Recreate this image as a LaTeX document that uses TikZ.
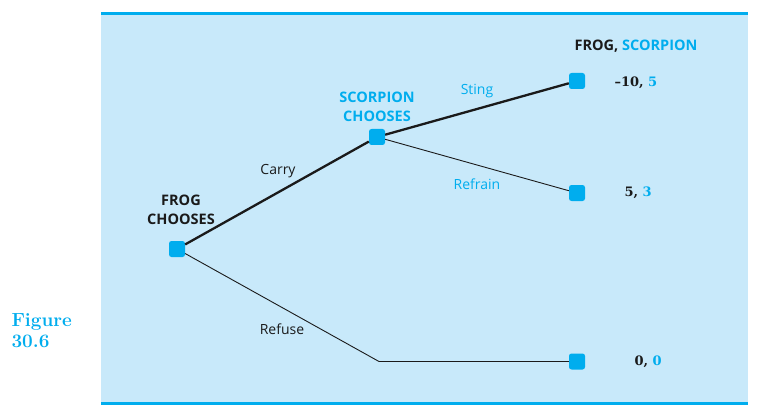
\documentclass[tikz,border=0pt]{standalone}
\usepackage{fontspec}
\setsansfont{Open Sans}
\newfontfamily\payfont{DejaVu Serif}
\definecolor{panel}{HTML}{C8E9FA}
\definecolor{cyanc}{HTML}{00ADEE}
\definecolor{ink}{HTML}{1A1A1A}
\tikzset{
  dec/.style={draw=none, fill=cyanc, rounded corners=2.5pt, minimum size=16pt, inner sep=0pt},
  thick branch/.style={line width=2.3pt, ink},
  thin branch/.style={line width=0.9pt, ink},
  lab/.style={font=\sffamily\fontsize{14}{16}\selectfont, text=ink},
  head/.style={font=\sffamily\bfseries\fontsize{14.5}{18.5}\selectfont, align=center},
  pay/.style={font=\payfont\bfseries\fontsize{13}{16}\selectfont, text=ink, anchor=west}
}
\begin{document}
\begin{tikzpicture}[x=1pt,y=-1pt]
\useasboundingbox (0,0) rectangle (760,417);
\fill[white] (0,0) rectangle (760,417);
\fill[panel] (101,15) rectangle (748,402);
\fill[cyanc] (101,12) rectangle (748,15.5);
\fill[cyanc] (101,401.5) rectangle (748,405);
% nodes
\node[dec] (frog) at (177,249) {};
\node[dec] (scorp) at (377,137) {};
\node[dec] (l1) at (577,81) {};
\node[dec] (l2) at (577,193) {};
\node[dec] (l3) at (577,361.5) {};
\coordinate (corner) at (379,361.5);
% branches
\draw[thick branch] (frog) -- (scorp);
\draw[thick branch] (scorp) -- (l1);
\draw[thin branch] (scorp) -- (l2);
\draw[thin branch] (frog) -- (corner) -- (l3);
% labels
\node[head, text=ink] (fh) at (181,210) {FROG\\CHOOSES};
\node[head, text=cyanc] (sh) at (377,107) {SCORPION\\CHOOSES};
\node[lab] (carry) at (278,171) {Carry};
\node[lab, text=cyanc] (sting) at (477,91) {Sting};
\node[lab, text=cyanc] (refrain) at (477,184) {Refrain};
\node[lab] (refuse) at (282,329) {Refuse};
\node[head] (title) at (636,46) {\textcolor{ink}{FROG,} \textcolor{cyanc}{SCORPION}};
\node[pay] (p1) at (611,83) {\textendash10, \textcolor{cyanc}{5}};
\node[pay] (p2) at (621,193) {5, \textcolor{cyanc}{3}};
\node[pay] (p3) at (631,362) {0, \textcolor{cyanc}{0}};
\node[font=\bfseries\fontsize{19}{21}\selectfont, text=cyanc, align=left, anchor=west] (fig) at (8,331) {Figure\\30.6};
\end{tikzpicture}
\end{document}
